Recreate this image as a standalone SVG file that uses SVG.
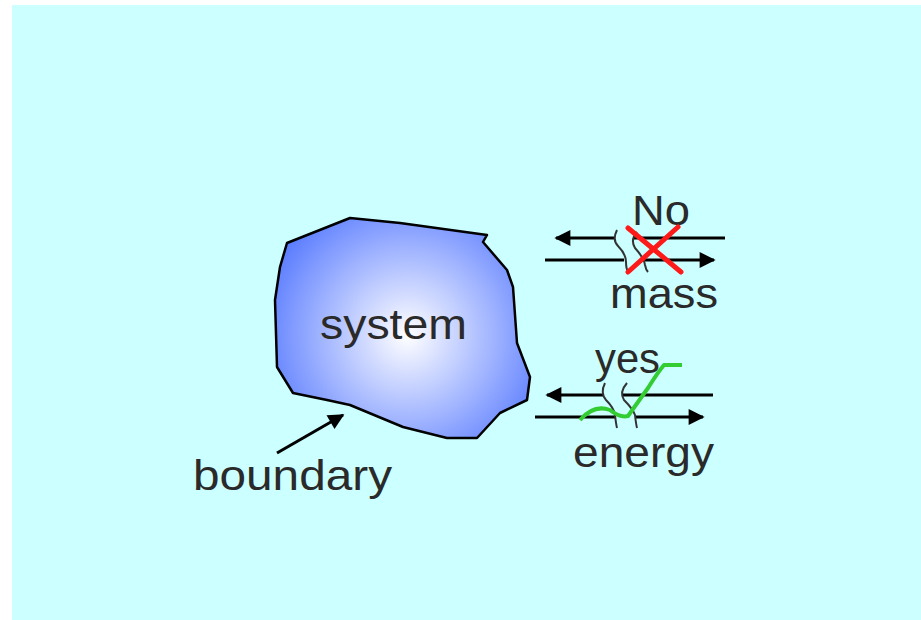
<svg xmlns="http://www.w3.org/2000/svg" width="921" height="620" viewBox="0 0 921 620">
<defs>
<radialGradient id="g" cx="407" cy="335" r="150" gradientUnits="userSpaceOnUse">
<stop offset="0" stop-color="#ffffff"/>
<stop offset="1" stop-color="#5a7cff"/>
</radialGradient>
<marker id="ah" viewBox="0 0 10 10" refX="9" refY="5" markerWidth="20" markerHeight="16" markerUnits="userSpaceOnUse" orient="auto">
<path d="M0,0 L10,5 L0,10 Z" fill="#000"/>
</marker>
<marker id="ah2" viewBox="0 0 10 10" refX="9" refY="5" markerWidth="22" markerHeight="16" markerUnits="userSpaceOnUse" orient="auto">
<path d="M0,0 L10,5 L0,10 Z" fill="#000"/>
</marker>
</defs>
<style>
text{font-family:"Liberation Sans",Arial,sans-serif;fill:#2a2a2a;font-size:42px}
.ln{stroke:#000;stroke-width:3;fill:none}
.wv{stroke:#333;stroke-width:2;fill:none}
</style>
<rect x="12" y="5" width="909" height="615" fill="#ccffff"/>
<g id="system">
<path d="M287,243 L350,218 L400,223 L487,235 L483,242 L507,270 L513,287 L517,343 L530,377 L527,400 L500,413 L477,438 L447,438 L403,427 L350,405 L327,400 L293,393 L277,367 L275,300 L280,267 Z" fill="url(#g)" stroke="#000" stroke-width="2.5" stroke-linejoin="round"/>
<text x="320" y="339" textLength="147" lengthAdjust="spacingAndGlyphs" font-size="44">system</text>
</g>
<g id="boundary">
<text x="193" y="490" textLength="199" lengthAdjust="spacingAndGlyphs">boundary</text>
</g>
<g id="mass">
<text x="632" y="225" textLength="58" lengthAdjust="spacingAndGlyphs">No</text>
<text x="610" y="308" textLength="108" lengthAdjust="spacingAndGlyphs" font-size="44">mass</text>
</g>
<g id="energy">
<text x="595" y="373" textLength="65" lengthAdjust="spacingAndGlyphs">yes</text>
<text x="573" y="467" textLength="141" lengthAdjust="spacingAndGlyphs" font-size="46">energy</text>
</g>
<g id="connectors">
<line class="ln" x1="277" y1="453" x2="343" y2="415" marker-end="url(#ah)"/>
<line class="ln" x1="614" y1="238" x2="556" y2="238" marker-end="url(#ah2)"/>
<line class="ln" x1="634" y1="238" x2="725" y2="238"/>
<line class="ln" x1="545" y1="260" x2="624" y2="260"/>
<line class="ln" x1="641" y1="260" x2="714" y2="260" marker-end="url(#ah2)"/>
<path class="wv" d="M617,230 Q612,240 618,246 Q626,254 626,262 Q626,270 629,273"/>
<path class="wv" d="M637,232 Q630,240 635,248 Q644,258 645,265 Q646,270 648,272"/>
<g stroke="#ff1a1a" stroke-width="5" stroke-linecap="round">
<line x1="628" y1="228" x2="681" y2="272"/>
<line x1="678" y1="227" x2="628" y2="272"/>
</g>
<line class="ln" x1="603" y1="395" x2="547" y2="395" marker-end="url(#ah2)"/>
<line class="ln" x1="623" y1="395" x2="713" y2="395"/>
<line class="ln" x1="535" y1="417" x2="615" y2="417"/>
<line class="ln" x1="635" y1="417" x2="703" y2="417" marker-end="url(#ah2)"/>
<path class="wv" d="M605,383 Q600,393 606,400 Q614,408 615,415 Q616,424 617,428"/>
<path class="wv" d="M627,383 Q619,392 624,400 Q633,409 635,415 Q636,424 637,428"/>
<path d="M580,420 Q594,404 610,410 Q620,418 628,416 Q638,402 648,388 Q658,372 664,365 L682,365" fill="none" stroke="#33cc33" stroke-width="4" stroke-linejoin="round"/>
</g>
</svg>
